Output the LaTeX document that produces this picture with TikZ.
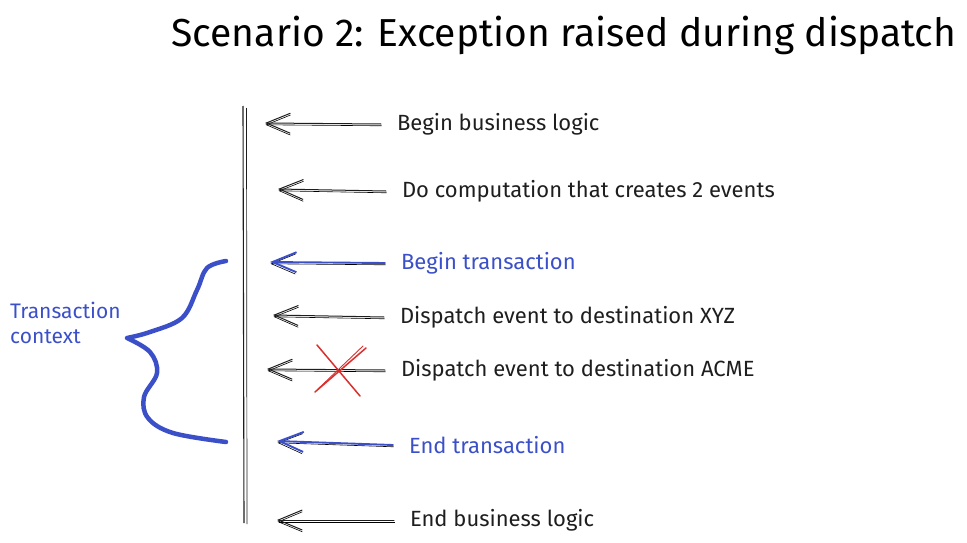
\documentclass[tikz,border=0pt]{standalone}
\usepackage{fontspec}
\setmainfont{Fira Sans}
\usepackage{tikz}
\usetikzlibrary{arrows.meta}
\definecolor{sketchblue}{HTML}{3B50C8}
\definecolor{sketchred}{HTML}{D9302C}
\definecolor{inkblack}{HTML}{1E1E1E}

\begin{document}
\begin{tikzpicture}[
  x=1pt, y=-1pt,
  step label/.style={anchor=west, inner sep=0pt, outer xsep=16pt,
              font=\fontsize{22}{26}\selectfont, text=inkblack},
  blue label/.style={step label, text=sketchblue},
  arr/.style={-{Straight Barb[length=24pt, width=20pt]}, line width=1pt,
              color=inkblack, line cap=round,
              preaction={draw, line width=0.6pt,
                transform canvas={shift={(0.6pt,-1.8pt)}}}},
  blue arr/.style={arr, color=sketchblue, line width=1.9pt},
  spine/.style={line width=1.1pt, color=inkblack},
  cross/.style={line width=1.5pt, color=sketchred, line cap=round}
]
  \useasboundingbox (0,0) rectangle (967,543);

  % title
  \node[font=\fontsize{39}{44}\selectfont, text=black] (title) at (564,35)
    {Scenario 2: Exception raised during dispatch};

  % timeline
  \draw[spine] (243,106) -- (244,523);
  \draw[spine, line width=0.7pt] (246.5,108) -- (247,524);

  % steps
  \node[step label] (s1) at (381,124) {Begin business logic};
  \node[step label] (s2) at (386,191) {Do computation that creates 2 events};
  \node[blue label] (s3) at (385,263) {Begin transaction};
  \node[step label] (s4) at (384,317) {Dispatch event to destination XYZ};
  \node[step label] (s5) at (385,370) {Dispatch event to destination ACME};
  \node[blue label] (s6) at (393,445) {End transaction};
  \node[step label] (s7) at (394,520) {End business logic};

  \coordinate (h1) at (265,123);
  \coordinate (h2) at (278,189);
  \coordinate (h3) at (270,262);
  \coordinate (h4) at (273,315);
  \coordinate (h5) at (267,369);
  \coordinate (h6) at (277,441);
  \coordinate (h7) at (277,520);

  \draw[arr]      (s1.west) -- (h1);
  \draw[arr]      (s2.west) -- (h2);
  \draw[blue arr] (s3.west) -- (h3);
  \draw[arr]      (s4.west) -- (h4);
  \draw[arr]      (s5.west) -- (h5);
  \draw[blue arr] (s6.west) -- (h6);
  \draw[arr]      (s7.west) -- (h7);

  % failed dispatch
  \draw[cross] (317,345) -- (360,396);
  \draw[cross] (366,348) -- (315,392);
  \draw[cross, line width=0.9pt] (363,346) -- (318,389);

  % transaction brace
  \draw[sketchblue, line width=4.5pt, line cap=round, line join=round]
    plot[smooth, tension=0.6] coordinates {(226,261) (207,268) (197,290)
      (182,318) (150,332) (127,338)}
    plot[smooth, tension=0.6] coordinates {(127,338) (150,352) (157,373)
      (144,397) (148,418) (173,433) (226,442)};
  \node[anchor=west, align=left, inner sep=0pt, text=sketchblue,
        font=\fontsize{21}{25}\selectfont] (ctx) at (10,323)
    {Transaction\\context};
\end{tikzpicture}
\end{document}
